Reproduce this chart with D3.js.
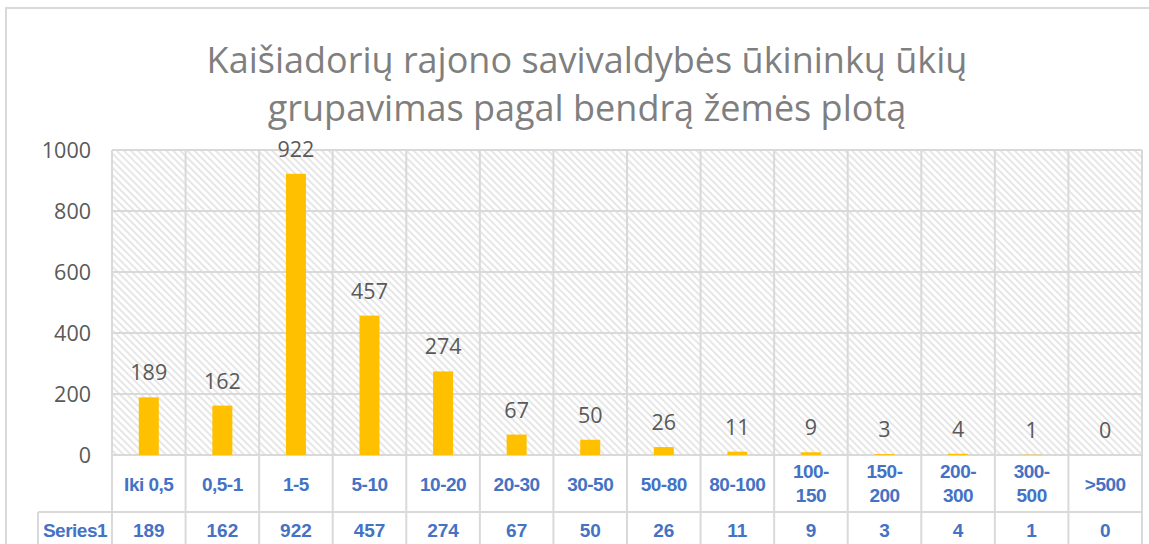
<!DOCTYPE html>
<html>
<head>
<meta charset="utf-8">
<script src="https://cdn.jsdelivr.net/npm/d3@7"></script>
<style>
  body { margin: 0; background: white; }
</style>
</head>
<body>
<div id="canvas"></div>
<script>
"use strict"

// chart values
let titleLines = ["Kaišiadorių rajono savivaldybės ūkininkų ūkių",
                  "grupavimas pagal bendrą žemės plotą"];
let categories = ["Iki 0,5", "0,5-1", "1-5", "5-10", "10-20", "20-30", "30-50",
                  "50-80", "80-100", "100-150", "150-200", "200-300", "300-500", ">500"];
let categoryLines = [["Iki 0,5"], ["0,5-1"], ["1-5"], ["5-10"], ["10-20"], ["20-30"], ["30-50"],
                     ["50-80"], ["80-100"], ["100-", "150"], ["150-", "200"], ["200-", "300"],
                     ["300-", "500"], [">500"]];
let seriesName = "Series1";
let values = [189, 162, 922, 457, 274, 67, 50, 26, 11, 9, 3, 4, 1, 0];
let yTicks = [0, 200, 400, 600, 800, 1000];

let drawing = d3.select("#canvas")
    .append("svg")
    .attr("width", 1149)
    .attr("height", 544);

let gridColor = "#d9d9d9";
let textGray = "#595959";
let blue = "#4472c4";

// hatch pattern for plot background (downward diagonal)
let defs = drawing.append("defs");
let hatch = defs.append("pattern")
    .attr("id", "hatch")
    .attr("patternUnits", "userSpaceOnUse")
    .attr("width", 5)
    .attr("height", 5)
    .attr("patternTransform", "rotate(-45)");
hatch.append("rect")
    .attr("width", 5)
    .attr("height", 5)
    .attr("fill", "white");
hatch.append("rect")
    .attr("x", 0)
    .attr("y", 0)
    .attr("width", 1.8)
    .attr("height", 5)
    .attr("fill", "#e4e4e4");

// outer chart border
let border = drawing.append("rect")
    .attr("x", 6)
    .attr("y", 8)
    .attr("width", 1160)
    .attr("height", 560)
    .attr("fill", "white")
    .attr("stroke", "#d9d9d9")
    .attr("stroke-width", 2);

// title
let title = drawing.append("text")
    .attr("x", 587)
    .attr("y", 73)
    .attr("text-anchor", "middle")
    .attr("font-family", "'Open Sans', 'Noto Sans', sans-serif")
    .attr("font-size", 36)
    .attr("fill", "#7f7f7f");
title.selectAll("tspan")
    .data(titleLines)
    .join("tspan")
    .attr("x", 587)
    .attr("dy", (d, i) => i === 0 ? 0 : 48)
    .text(d => d);

let plotLeft = 112, plotRight = 1142, plotTop = 150, plotBottom = 455;

let x = d3.scaleBand()
    .domain(categories)
    .range([plotLeft, plotRight]);

let y = d3.scaleLinear()
    .domain([0, 1000])
    .range([plotBottom, plotTop]);

// plot background
drawing.append("rect")
    .attr("x", plotLeft)
    .attr("y", plotTop)
    .attr("width", plotRight - plotLeft)
    .attr("height", plotBottom - plotTop)
    .attr("fill", "url(#hatch)");

// horizontal gridlines
drawing.append("g")
    .selectAll("line")
    .data(yTicks)
    .join("line")
    .attr("x1", plotLeft)
    .attr("x2", plotRight)
    .attr("y1", d => y(d))
    .attr("y2", d => y(d))
    .attr("stroke", gridColor)
    .attr("stroke-width", 2);

// vertical lines (plot + table)
let tableMid = 512, tableBottom = 560;
let boundaries = categories.map(c => x(c)).concat([plotRight]);
drawing.append("g")
    .selectAll("line")
    .data(boundaries)
    .join("line")
    .attr("x1", d => d)
    .attr("x2", d => d)
    .attr("y1", plotTop)
    .attr("y2", tableBottom)
    .attr("stroke", gridColor)
    .attr("stroke-width", 2);

// table horizontal lines
drawing.append("line")
    .attr("x1", 38)
    .attr("x2", plotRight)
    .attr("y1", tableMid)
    .attr("y2", tableMid)
    .attr("stroke", gridColor)
    .attr("stroke-width", 2);
drawing.append("line")
    .attr("x1", 38)
    .attr("x2", 38)
    .attr("y1", tableMid)
    .attr("y2", tableBottom)
    .attr("stroke", gridColor)
    .attr("stroke-width", 2);

// y axis labels
drawing.append("g")
    .selectAll("text")
    .data(yTicks)
    .join("text")
    .attr("x", 91)
    .attr("y", d => y(d) + 8)
    .attr("text-anchor", "end")
    .attr("font-family", "'Open Sans', 'Noto Sans', sans-serif")
    .attr("font-size", 21.5)
    .attr("fill", textGray)
    .text(d => d);

// bars
let barWidth = 20;
drawing.append("g")
    .selectAll("rect")
    .data(values)
    .join("rect")
    .attr("x", (d, i) => x(categories[i]) + x.bandwidth() / 2 - barWidth / 2)
    .attr("y", d => y(d))
    .attr("width", barWidth)
    .attr("height", d => plotBottom - y(d))
    .attr("fill", "#ffc000");

// data labels
drawing.append("g")
    .selectAll("text")
    .data(values)
    .join("text")
    .attr("x", (d, i) => x(categories[i]) + x.bandwidth() / 2)
    .attr("y", d => y(d) - 17)
    .attr("text-anchor", "middle")
    .attr("font-family", "'Open Sans', 'Noto Sans', sans-serif")
    .attr("font-size", 21.5)
    .attr("fill", textGray)
    .text(d => d);

// table header (categories)
let header = drawing.append("g")
    .selectAll("text")
    .data(categoryLines)
    .join("text")
    .attr("x", (d, i) => x(categories[i]) + x.bandwidth() / 2)
    .attr("y", d => d.length === 1 ? 491 : 478)
    .attr("text-anchor", "middle")
    .attr("font-family", "'Liberation Sans Narrow', 'Arial Narrow', sans-serif")
    .attr("font-weight", "bold")
    .attr("font-size", 19)
    .attr("letter-spacing", -0.5)
    .attr("fill", blue);
header.selectAll("tspan")
    .data(d => d)
    .join("tspan")
    .attr("x", function () { return d3.select(this.parentNode).attr("x"); })
    .attr("dy", (d, i) => i === 0 ? 0 : 24)
    .text(d => d);

// table values row
drawing.append("text")
    .attr("x", 75)
    .attr("y", 537)
    .attr("text-anchor", "middle")
    .attr("font-family", "'Liberation Sans Narrow', 'Arial Narrow', sans-serif")
    .attr("font-weight", "bold")
    .attr("font-size", 19)
    .attr("letter-spacing", -0.5)
    .attr("fill", blue)
    .text(seriesName);

drawing.append("g")
    .selectAll("text")
    .data(values)
    .join("text")
    .attr("x", (d, i) => x(categories[i]) + x.bandwidth() / 2)
    .attr("y", 537)
    .attr("text-anchor", "middle")
    .attr("font-family", "'Liberation Sans Narrow', 'Arial Narrow', sans-serif")
    .attr("font-weight", "bold")
    .attr("font-size", 19)
    .attr("fill", blue)
    .text(d => d);
</script>
</body>
</html>
